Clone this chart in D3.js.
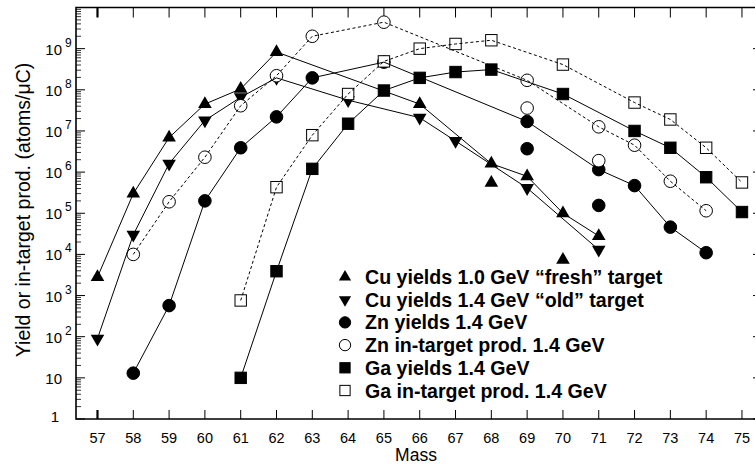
<!DOCTYPE html>
<html>
<head>
<meta charset="utf-8">
<script src="https://cdn.jsdelivr.net/npm/d3@7"></script>
<style>
  body { margin: 0; background: #fff; }
  text { font-family: "Liberation Sans", Arial, sans-serif; fill: #000; }
</style>
</head>
<body>
<svg id="chart" width="755" height="465"></svg>
<script>
// masses and values
var massTicks = d3.range(57, 76);
var decades = d3.range(0, 10);

var cuFreshMass = [57, 58, 59, 60, 61, 62, 66, 68, 69, 70, 71];
var cuFresh = [2.8e3, 3e5, 6.9e6, 4.5e7, 1.05e8, 8.3e8, 4.5e7, 1.6e6, 7.9e5, 1.0e5, 2.8e4];
var cuFreshExtraMass = [68, 70];
var cuFreshExtra = [5.5e5, 7.4e3];

var cuOldMass = [57, 58, 59, 60, 61, 62, 64, 66, 67, 69, 71];
var cuOld = [90, 3e4, 1.6e6, 1.8e7, 6.6e7, 1.95e8, 5.6e7, 2.1e7, 5.7e6, 4.1e5, 1.3e4];

var znYieldMass = [58, 59, 60, 61, 62, 63, 65, 69, 71, 72, 73, 74];
var znYield = [13, 5.7e2, 2.0e5, 3.9e6, 2.2e7, 1.95e8, 4.7e8, 1.7e7, 1.15e6, 4.7e5, 4.6e4, 1.1e4];
var znYieldExtraMass = [69, 71];
var znYieldExtra = [3.7e6, 1.55e5];

var znProdMass = [58, 59, 60, 61, 62, 63, 65, 69, 71, 72, 73, 74];
var znProd = [1e4, 1.9e5, 2.3e6, 4.1e7, 2.2e8, 2.0e9, 4.4e9, 1.7e8, 1.26e7, 4.5e6, 6e5, 1.15e5];
var znProdExtraMass = [69, 71];
var znProdExtra = [3.6e7, 1.9e6];

var gaYieldMass = [61, 62, 63, 64, 65, 66, 67, 68, 70, 72, 73, 74, 75];
var gaYield = [10, 3.9e3, 1.2e6, 1.5e7, 9.6e7, 1.95e8, 2.7e8, 3.1e8, 7.9e7, 1.0e7, 3.9e6, 7.5e5, 1.07e5];

var gaProdMass = [61, 62, 63, 64, 65, 66, 67, 68, 70, 72, 73, 74, 75];
var gaProd = [7.6e2, 4.3e5, 7.9e6, 7.9e7, 4.9e8, 1.0e9, 1.3e9, 1.6e9, 4.1e8, 4.9e7, 1.9e7, 3.9e6, 5.6e5];

var legendLabels = [
  "Cu yields 1.0 GeV \u201cfresh\u201d target",
  "Cu yields 1.4 GeV \u201cold\u201d target",
  "Zn yields 1.4 GeV",
  "Zn in-target prod. 1.4 GeV",
  "Ga yields 1.4 GeV",
  "Ga in-target prod. 1.4 GeV"
];

function pairs(m, v) { return m.map(function(d, i) { return [d, v[i]]; }); }

// marker kinds: up, down, dot, ring, box, open box
var series = [
  {pts: pairs(cuFreshMass, cuFresh), extra: pairs(cuFreshExtraMass, cuFreshExtra), kind: "up", dash: null},
  {pts: pairs(cuOldMass, cuOld), extra: [], kind: "down", dash: null},
  {pts: pairs(znYieldMass, znYield), extra: pairs(znYieldExtraMass, znYieldExtra), kind: "dot", dash: null},
  {pts: pairs(znProdMass, znProd), extra: pairs(znProdExtraMass, znProdExtra), kind: "ring", dash: "3,2.5"},
  {pts: pairs(gaYieldMass, gaYield), extra: [], kind: "box", dash: null},
  {pts: pairs(gaProdMass, gaProd), extra: [], kind: "obox", dash: "3,2.5"}
];

var svg = d3.select("#chart");
// plot frame (avoid "top", it is window.top)
var pL = 76, pR = 757, pT = 7.5, pB = 419;

var x = d3.scaleLinear().domain([56.4, 75.42]).range([pL, pR]);
var y = d3.scaleLog().domain([1, 1e10]).range([pB, pT]);

// minor ticks for log axis
var minor = [];
decades.forEach(function(e) {
  for (var k = 2; k <= 9; k++) minor.push(k * Math.pow(10, e));
});

var ax = svg.append("g").attr("stroke", "#000").attr("fill", "none");

// frame
ax.append("path")
  .attr("d", "M" + pR + "," + pT + "H" + pL + "V" + pB + "H" + pR)
  .attr("stroke-width", 1.6);

// x ticks top and bottom
massTicks.forEach(function(m) {
  var w = m === 57 ? 2.2 : 1;
  ax.append("line").attr("x1", x(m)).attr("x2", x(m)).attr("y1", pB).attr("y2", pB - 9).attr("stroke-width", w);
  ax.append("line").attr("x1", x(m)).attr("x2", x(m)).attr("y1", pT).attr("y2", pT + 10).attr("stroke-width", w);
});

// y ticks
decades.concat([10]).forEach(function(e) {
  var v = Math.pow(10, e);
  ax.append("line").attr("x1", pL).attr("x2", pL + 9).attr("y1", y(v)).attr("y2", y(v));
  ax.append("line").attr("x1", pR - 4).attr("x2", pR).attr("y1", y(v)).attr("y2", y(v));
});
minor.forEach(function(v) {
  ax.append("line").attr("x1", pL).attr("x2", pL + 5).attr("y1", y(v)).attr("y2", y(v)).attr("stroke-width", 0.8);
});

// x tick labels
svg.append("g").selectAll("text").data(massTicks).enter().append("text")
  .attr("x", function(d) { return x(d); })
  .attr("y", 443)
  .attr("text-anchor", "middle")
  .attr("font-size", 14.5)
  .text(function(d) { return d; });

// y tick labels
var yl = svg.append("g");
decades.forEach(function(e) {
  var yy = y(Math.pow(10, e));
  if (e === 0) {
    yl.append("text").attr("x", 59).attr("y", yy + 3).attr("text-anchor", "end").attr("font-size", 15).text("1");
  } else {
    yl.append("text").attr("x", 62).attr("y", yy + 6).attr("text-anchor", "end").attr("font-size", 15).text("10");
    if (e > 1) {
      yl.append("text").attr("x", 65).attr("y", yy - 2).attr("font-size", 12).text(e);
    }
  }
});

// axis titles
svg.append("text")
  .attr("x", 416).attr("y", 461)
  .attr("text-anchor", "middle")
  .attr("font-size", 17.5)
  .text("Mass");

svg.append("text")
  .attr("transform", "translate(30,210) rotate(-90)")
  .attr("text-anchor", "middle")
  .attr("font-size", 19.5)
  .text("Yield or in-target prod. (atoms/\u03bcC)");

function drawMarker(g, kind, cx, cy, s) {
  s = s || 1;
  if (kind === "up" || kind === "down") {
    g.append("path")
      .attr("d", d3.symbol(d3.symbolTriangle, 80 * s * s)())
      .attr("transform", "translate(" + cx + "," + cy + ")" + (kind === "down" ? " rotate(180)" : ""))
      .attr("fill", "#000");
  } else if (kind === "dot" || kind === "ring") {
    g.append("circle").attr("cx", cx).attr("cy", cy).attr("r", 6.3 * s)
      .attr("fill", kind === "dot" ? "#000" : "#fff")
      .attr("stroke", "#000").attr("stroke-width", 1);
  } else {
    var h = 5.7 * s;
    g.append("rect").attr("x", cx - h).attr("y", cy - h).attr("width", 2 * h).attr("height", 2 * h)
      .attr("fill", kind === "box" ? "#000" : "#fff")
      .attr("stroke", "#000").attr("stroke-width", 1);
  }
}

var marks = svg.append("g");
series.forEach(function(s) {
  s.pts.concat(s.extra).forEach(function(p) {
    drawMarker(marks, s.kind, x(p[0]), y(p[1]));
  });
});

var line = d3.line().x(function(d) { return x(d[0]); }).y(function(d) { return y(d[1]); });
var lines = svg.append("g");
series.forEach(function(s) {
  lines.append("path")
    .attr("d", line(s.pts))
    .attr("fill", "none")
    .attr("stroke", "#000")
    .attr("stroke-width", 1)
    .attr("stroke-dasharray", s.dash);
});

// legend
var lg = svg.append("g");
legendLabels.forEach(function(t, i) {
  var ly = 277 + i * 22.7;
  drawMarker(lg, series[i].kind, 345, ly, 0.9);
  lg.append("text")
    .attr("x", 365).attr("y", ly + 7)
    .attr("font-size", 19.6)
    .attr("font-weight", "bold")
    .text(t);
});
</script>
</body>
</html>
